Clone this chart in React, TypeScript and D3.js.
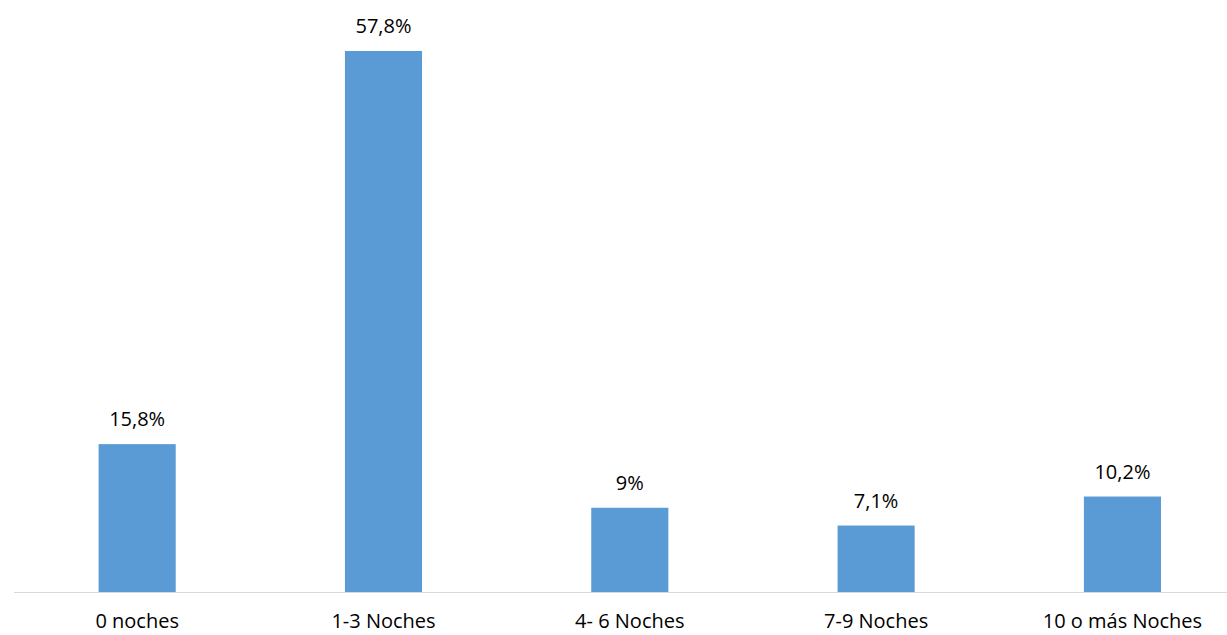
import React from "react";
import * as d3 from "d3";

const categories = ["0 noches", "1-3 Noches", "4- 6 Noches", "7-9 Noches", "10 o más Noches"];
const values = [15.8, 57.8, 9, 7.1, 10.2];
const valueLabels = ["15,8%", "57,8%", "9%", "7,1%", "10,2%"];

const W = 1227;
const H = 635;
const left = 14;
const right = 1245.6;
const baseline = 592;

export default function App() {
  const x = d3.scaleBand<string>().domain(categories).range([left, right]).paddingInner(0.687).paddingOuter(0.3435);
  const y = d3.scaleLinear().domain([0, 60]).range([baseline, baseline - 561.6]);
  const font = "'Open Sans', sans-serif";
  return (
    <svg width={W} height={H} style={{ position: "absolute", left: 0, top: 0 }}>
      <rect x={0} y={0} width={W} height={H} fill="#ffffff" />
      {categories.map((c, i) => (
        <g key={c}>
          <rect x={x(c)!} y={y(values[i])} width={x.bandwidth()} height={baseline - y(values[i])} fill="#5B9BD5" />
          <text x={x(c)! + x.bandwidth() / 2} y={y(values[i]) - 18} textAnchor="middle" fontFamily={font} fontSize={20} fill="#000">
            {valueLabels[i]}
          </text>
          <text x={x(c)! + x.bandwidth() / 2} y={628} textAnchor="middle" fontFamily={font} fontSize={20} fill="#000">
            {c}
          </text>
        </g>
      ))}
      <line x1={left} x2={W} y1={baseline + 0.5} y2={baseline + 0.5} stroke="#D9D9D9" strokeWidth={1} />
    </svg>
  );
}
